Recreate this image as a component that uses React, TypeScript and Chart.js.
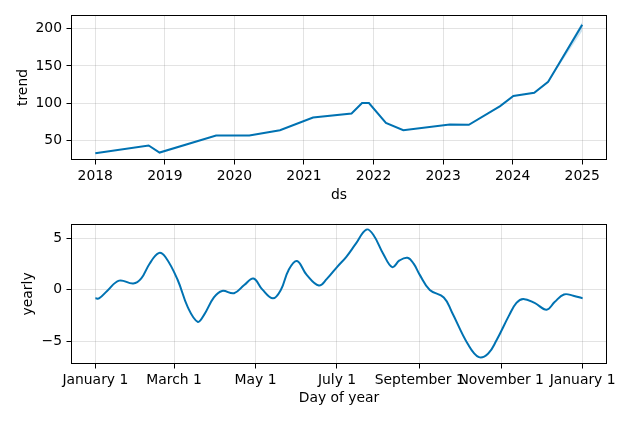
import React, { useEffect, useRef } from "react";
import { Chart, registerables } from "chart.js";

Chart.register(...registerables);

// ---- Trend component (top panel) ----
const trendYears = [2018.0, 2018.767, 2018.924, 2019.737, 2020.214, 2020.655, 2021.13, 2021.684, 2021.835, 2021.934, 2022.178, 2022.428, 2023.096, 2023.37, 2023.82, 2024.01, 2024.31, 2024.51, 2025.0];
const trendValues = [32.4, 42.8, 33.3, 56.3, 56.3, 63.5, 80.6, 86.0, 100.0, 100.0, 73.4, 63.5, 71.2, 70.7, 96.0, 109.5, 114.0, 128.8, 205.5];
const trendLower = [32.4, 42.8, 33.3, 56.3, 56.3, 63.5, 80.6, 86.0, 100.0, 100.0, 73.4, 63.5, 71.2, 70.7, 96.0, 109.5, 114.0, 128.2, 197.0];
const trendUpper = [32.4, 42.8, 33.3, 56.3, 56.3, 63.5, 80.6, 86.0, 100.0, 100.0, 73.4, 63.5, 71.2, 70.7, 96.0, 109.5, 114.0, 129.4, 209.5];
const trendXTicks = [2018, 2019, 2020, 2021, 2022, 2023, 2024, 2025];
const trendYTicks = [50, 100, 150, 200];

// ---- Yearly seasonality (bottom panel) ----
const yearlyDays = [0, 2.7, 8.8, 17.8, 28.4, 34.4, 40.5, 47.4, 52.6, 61.6, 69.2, 76.7, 81.3, 88.8, 94.9, 103.9, 111.5, 118.4, 125, 133, 139, 144.7, 151, 158.3, 167.4, 173.4, 181, 188, 195, 203, 208.2, 215.7, 222.4, 227.8, 233.8, 238.4, 243, 250.5, 261, 267, 279, 287.3, 294.3, 300.3, 310, 315.4, 320.5, 329, 338, 344, 351, 358, 365];
const yearlyValues = [-0.84, -0.85, -0.12, 0.88, 0.6, 1.1, 2.5, 3.56, 3.15, 0.97, -1.69, -3.12, -2.47, -0.75, -0.12, -0.34, 0.45, 1.09, 0.03, -0.84, 0.0, 1.9, 2.78, 1.44, 0.41, 1.05, 2.2, 3.2, 4.45, 5.84, 5.34, 3.47, 2.19, 2.84, 3.1, 2.53, 1.44, -0.03, -0.75, -2.16, -5.28, -6.56, -6.2, -4.97, -2.47, -1.28, -0.9, -1.28, -1.94, -1.2, -0.46, -0.58, -0.84];
const yearlyXTicks = [0, 59, 120, 181, 243, 304, 365];
const yearlyXLabels = ["January 1", "March 1", "May 1", "July 1", "September 1", "November 1", "January 1"];
const yearlyYTicks = [-5, 0, 5];

const LINE = "#0072B2";
const BAND = "rgba(0,114,178,0.2)";
const GRID = "rgba(128,128,128,0.22)";
const FONT = { family: "'DejaVu Sans', sans-serif", size: 13.9 };

const framePlugin = {
  id: "frame",
  afterDatasetsDraw(chart: any) {
    const { ctx, chartArea: a } = chart;
    ctx.save();
    ctx.strokeStyle = "#000";
    ctx.lineWidth = 1;
    const l = Math.round(a.left) + 0.5;
    const t = Math.round(a.top) + 0.5;
    const r = Math.round(a.right) - 0.5;
    const b = Math.round(a.bottom) - 0.5;
    ctx.strokeRect(l, t, r - l, b - t);
    ctx.restore();
  },
};

const fmtNum = (v: number) => (v < 0 ? "\u2212" + String(Math.abs(v)) : String(v));

function axisX(opts: any) {
  return {
    type: "linear",
    position: "bottom",
    min: opts.min,
    max: opts.max,
    afterBuildTicks: (s: any) => {
      s.ticks = opts.ticks.map((v: number) => ({ value: v }));
    },
    afterFit: (s: any) => {
      s.height = opts.height;
    },
    ticks: {
      autoSkip: false,
      maxRotation: 0,
      minRotation: 0,
      padding: 4,
      color: "#000",
      font: FONT,
      callback: opts.callback,
    },
    grid: { color: GRID, lineWidth: 1, tickColor: "#000", tickLength: 4.5, drawTicks: true },
    border: { display: false },
    title: { display: true, text: opts.title, color: "#000", font: FONT, padding: { top: 0, bottom: opts.titlePad } },
  };
}

function axisY(opts: any) {
  return {
    type: "linear",
    position: "left",
    min: opts.min,
    max: opts.max,
    afterBuildTicks: (s: any) => {
      s.ticks = opts.ticks.map((v: number) => ({ value: v }));
    },
    afterFit: (s: any) => {
      s.width = 71;
    },
    ticks: { padding: 4.5, color: "#000", font: FONT, callback: (v: any) => fmtNum(Number(v)) },
    grid: { color: GRID, lineWidth: 1, tickColor: "#000", tickLength: 4.5, drawTicks: true },
    border: { display: false },
    title: { display: true, text: opts.title, color: "#000", font: FONT, padding: { top: opts.titlePad, bottom: 0 } },
  };
}

export default function App() {
  const topRef = useRef<HTMLCanvasElement | null>(null);
  const botRef = useRef<HTMLCanvasElement | null>(null);

  useEffect(() => {
    const trendPts = trendYears.map((x, i) => ({ x, y: trendValues[i] }));
    const upperPts = trendYears.map((x, i) => ({ x, y: trendUpper[i] }));
    const lowerPts = trendYears.map((x, i) => ({ x, y: trendLower[i] }));
    const top = new Chart(topRef.current as HTMLCanvasElement, {
      type: "line",
      data: {
        datasets: [
          { data: upperPts, borderWidth: 0, pointRadius: 0, backgroundColor: BAND, fill: "+1", tension: 0 },
          { data: lowerPts, borderWidth: 0, pointRadius: 0, backgroundColor: BAND, fill: false, tension: 0 },
          { data: trendPts, borderColor: LINE, borderWidth: 2, pointRadius: 0, fill: false, tension: 0 },
        ],
      },
      options: {
        responsive: false,
        animation: false,
        devicePixelRatio: 1,
        layout: { padding: { top: 15, right: 27, left: 0, bottom: 0 } },
        plugins: { legend: { display: false }, tooltip: { enabled: false } },
        scales: {
          x: axisX({ min: 2017.651, max: 2025.356, ticks: trendXTicks, height: 51, title: "ds", titlePad: 7.7, callback: (v: any) => String(v) }),
          y: axisY({ min: 23.3, max: 218.7, ticks: trendYTicks, title: "trend", titlePad: 15 }),
        },
      } as any,
      plugins: [framePlugin],
    } as any);

    const yearlyPts = yearlyDays.map((x, i) => ({ x, y: yearlyValues[i] }));
    const bot = new Chart(botRef.current as HTMLCanvasElement, {
      type: "line",
      data: {
        datasets: [
          { data: yearlyPts, borderColor: LINE, borderWidth: 2, pointRadius: 0, fill: false, tension: 0.4 },
        ],
      },
      options: {
        responsive: false,
        animation: false,
        devicePixelRatio: 1,
        layout: { padding: { top: 8, right: 27, left: 0, bottom: 0 } },
        plugins: { legend: { display: false }, tooltip: { enabled: false } },
        scales: {
          x: axisX({
            min: -18.25,
            max: 383.25,
            ticks: yearlyXTicks,
            height: 58,
            title: "Day of year",
            titlePad: 15.2,
            callback: (v: any) => {
              const i = yearlyXTicks.indexOf(Number(v));
              return i >= 0 ? yearlyXLabels[i] : "";
            },
          }),
          y: axisY({ min: -7.22, max: 6.4, ticks: yearlyYTicks, title: "yearly", titlePad: 20 }),
        },
      } as any,
      plugins: [framePlugin],
    } as any);

    return () => {
      top.destroy();
      bot.destroy();
    };
  }, []);

  return (
    <div style={{ position: "absolute", left: 0, top: 0, width: 634, height: 422, background: "#fff" }}>
      <canvas ref={topRef} width={634} height={211} style={{ display: "block", position: "absolute", left: 0, top: 0 }} />
      <canvas ref={botRef} width={634} height={211} style={{ display: "block", position: "absolute", left: 0, top: 211 }} />
    </div>
  );
}
